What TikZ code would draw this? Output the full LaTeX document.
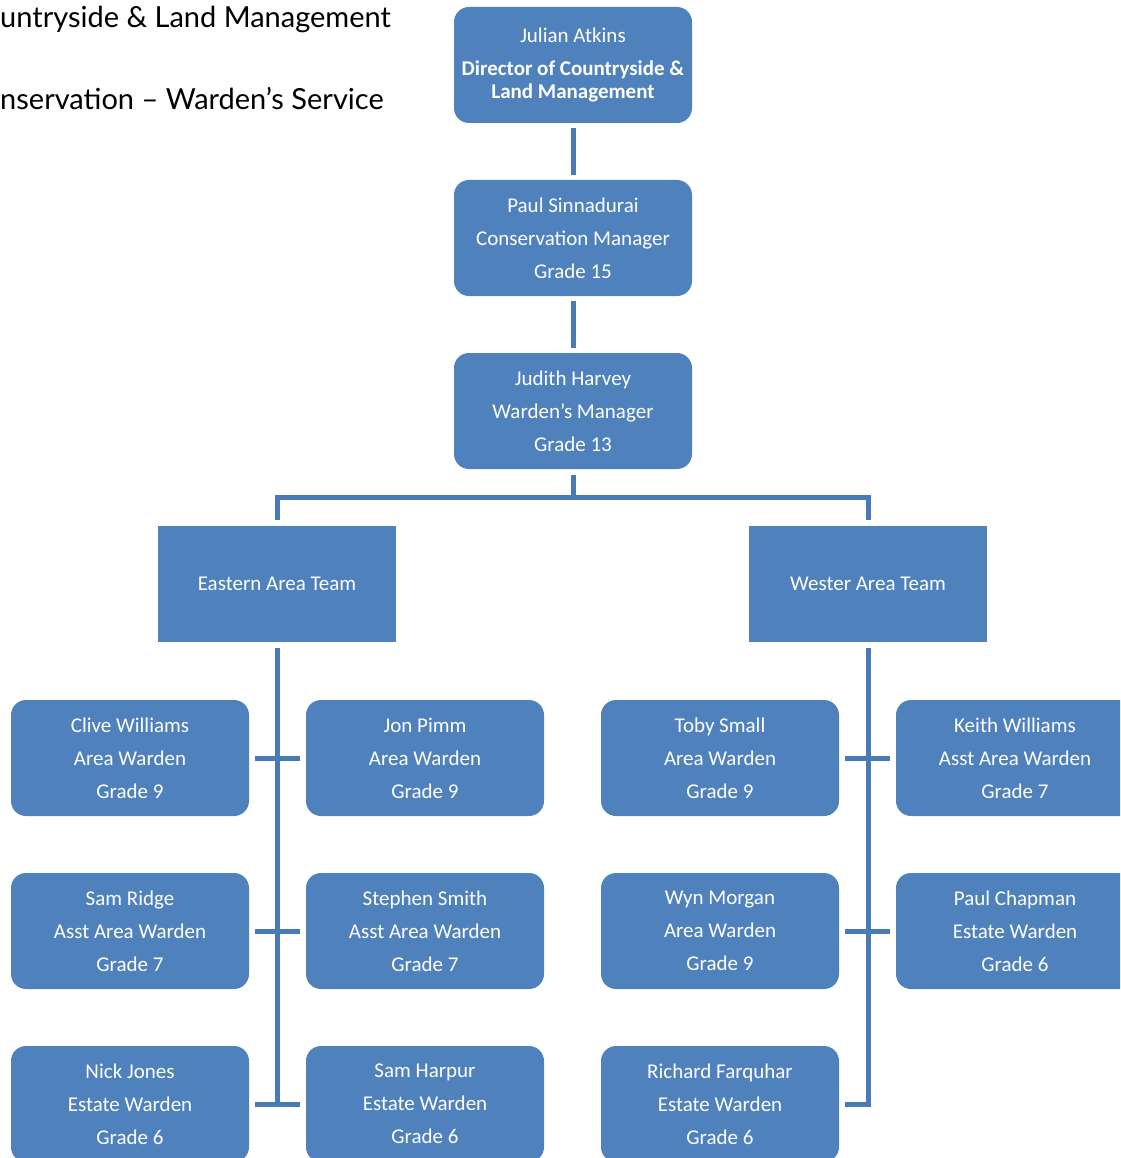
\documentclass[tikz,border=0pt]{standalone}
\usepackage{fontspec}
\setmainfont{Carlito}
\newfontfamily\headfont{Lato}
\usetikzlibrary{positioning, calc}

\definecolor{boxblue}{HTML}{4F81BD}
\definecolor{lineblue}{HTML}{4A7AB6}

\begin{document}
\begin{tikzpicture}[
    x=1pt, y=-1pt,
    font={\fontsize{21}{33}\selectfont},
    person/.style={
        fill=boxblue, text=white,
        rounded corners=15pt,
        align=center,
        minimum width=238pt,
        minimum height=116pt,
        inner sep=0pt
    },
    team/.style={
        fill=boxblue, text=white,
        align=center,
        minimum width=238pt,
        minimum height=116pt,
        inner sep=0pt
    },
    conn/.style={draw=lineblue, line width=5pt},
    heading/.style={anchor=base west, inner sep=0pt,
        font={\headfont\fontsize{29}{29}\selectfont}}
]
\clip (0,0) rectangle (1120,1158);

% ===================== HEADING (cut at the page edge) =====================
\node[heading] (head1) at (0,28) {untryside \& Land Management};
\node[heading] (head2) at (0,110) {nservation – Warden’s Service};

% ===================== MANAGEMENT COLUMN =====================
\node[person, font={\fontsize{21}{23}\selectfont}] (julian) at (573,65)
{Julian Atkins\\[10pt]\textbf{Director of Countryside \&}\\\textbf{Land Management}};

\node[person] (paul) at (573,238)
{Paul Sinnadurai\\Conservation Manager\\Grade 15};

\node[person] (judith) at (573,411)
{Judith Harvey\\Warden's Manager\\Grade 13};

% ===================== AREA TEAMS =====================
\node[team] (east) at (277,584) {Eastern Area Team};
\node[team] (west) at (868,584) {Wester Area Team};

% ===================== WARDENS =====================
\node[person] (clive) at (130,758) {Clive Williams\\Area Warden\\Grade 9};
\node[person] (jon) at (425,758) {Jon Pimm\\Area Warden\\Grade 9};
\node[person] (toby) at (720,758) {Toby Small\\Area Warden\\Grade 9};
\node[person] (keith) at (1015,758) {Keith Williams\\Asst Area Warden\\Grade 7};

\node[person] (sam) at (130,931) {Sam Ridge\\Asst Area Warden\\Grade 7};
\node[person] (stephen) at (425,931) {Stephen Smith\\Asst Area Warden\\Grade 7};
\node[person] (wyn) at (720,931) {Wyn Morgan\\Area Warden\\Grade 9};
\node[person] (chapman) at (1015,931) {Paul Chapman\\Estate Warden\\Grade 6};

\node[person] (nick) at (130,1104) {Nick Jones\\Estate Warden\\Grade 6};
\node[person] (harpur) at (425,1104) {Sam Harpur\\Estate Warden\\Grade 6};
\node[person] (richard) at (720,1104) {Richard Farquhar\\Estate Warden\\Grade 6};

% ===================== CONNECTORS =====================
\coordinate (bus) at (573,497);

\draw[conn, shorten <=5pt, shorten >=5pt] (julian) -- (paul);
\draw[conn, shorten <=5pt, shorten >=5pt] (paul) -- (judith);
\draw[conn, shorten <=6pt] (judith.south) -- (bus);
\draw[conn, shorten <=6pt, shorten >=6pt]
  (east.north) -- (east.north |- bus) -- (west.north |- bus) -- (west.north);

% eastern rail
\draw[conn, shorten <=6pt] (east.south) -- (east.south |- nick.east);
\draw[conn, shorten <=6pt, shorten >=6pt] (clive.east) -- (jon.west);
\draw[conn, shorten <=6pt, shorten >=6pt] (sam.east) -- (stephen.west);
\draw[conn, shorten <=6pt, shorten >=6pt] (nick.east) -- (harpur.west);

% western rail
\draw[conn, shorten <=6pt, shorten >=6pt] (west.south) |- (richard.east);
\draw[conn, shorten <=6pt, shorten >=6pt] (toby.east) -- (keith.west);
\draw[conn, shorten <=6pt, shorten >=6pt] (wyn.east) -- (chapman.west);

\end{tikzpicture}
\end{document}
